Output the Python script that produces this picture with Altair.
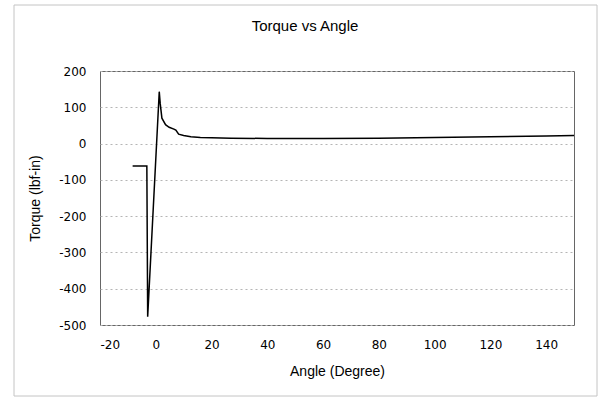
import altair as alt
import pandas as pd

angle = [-8.3, -3.2, -2.9, 1.25, 1.6, 2.2, 3.5, 4.8, 6.5, 7.2, 8.2, 10, 12.6, 16, 20, 27, 40, 60, 80, 100, 120, 140, 150]
torque = [-62, -62, -477, 143, 110, 70, 52, 45, 40, 37, 26, 22, 19, 17, 16, 15, 14, 14, 15, 17, 19, 21, 22]
x_ticks = [-20, 0, 20, 40, 60, 80, 100, 120, 140]
y_ticks = [-500, -400, -300, -200, -100, 0, 100, 200]

df = pd.DataFrame({"angle": angle, "torque": torque, "order": list(range(len(angle)))})

FONT = "Liberation Sans"
LABEL_FONT = "DejaVu Sans"

line = alt.Chart(df).mark_line(color="black", strokeWidth=1.5).encode(
    x=alt.X("angle:Q", scale=alt.Scale(domain=[-20, 150], nice=False, zero=False),
            axis=alt.Axis(values=x_ticks, title="Angle (Degree)", grid=False, ticks=False,
                          domain=False, labelPadding=14, titlePadding=14,
                          labelExpr="toString(datum.value)")),
    y=alt.Y("torque:Q", scale=alt.Scale(domain=[-500, 200], nice=False),
            axis=alt.Axis(values=y_ticks, title="Torque (lbf-in)", grid=True, ticks=False,
                          domain=False, labelPadding=14, titlePadding=16,
                          gridColor="#b5b5b5", gridDash=[2, 3], gridWidth=1,
                          labelExpr="toString(datum.value)")),
    order="order:O",
)

frame = alt.Chart(pd.DataFrame({"k": [0]})).mark_rect(
    fill=None, stroke="#c4c4c4", strokeWidth=1
).encode(
    x=alt.value(-86), x2=alt.value(497), y=alt.value(-66), y2=alt.value(325)
)

chart = alt.layer(frame, line).properties(
    width=474, height=254,
    title=alt.TitleParams("Torque vs Angle", anchor="middle", dx=-32, offset=-29,
                          font=FONT, fontSize=15, fontWeight="normal", color="black"),
    padding={"left": 100, "top": 71, "right": 31, "bottom": 72},
    autosize=alt.AutoSizeParams(type="none"),
).configure_axis(
    labelFont=LABEL_FONT, labelFontSize=12, labelColor="black",
    titleFont=FONT, titleFontSize=14, titleFontWeight="normal", titleColor="black",
).configure_view(stroke="#666", strokeWidth=1)

chart.save("out.html", embed_options={"renderer": "svg", "actions": False})
